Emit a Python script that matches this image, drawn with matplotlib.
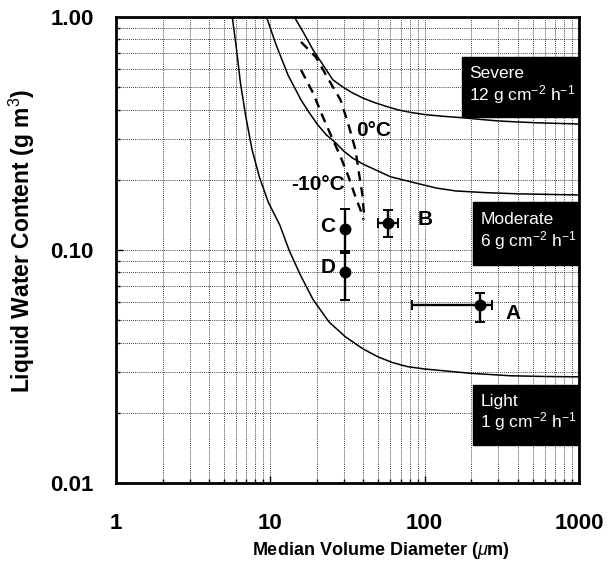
import matplotlib
matplotlib.use('Agg')
import matplotlib.pyplot as plt
from matplotlib.patches import Rectangle

plt.rcParams['font.family'] = ['Liberation Sans', 'DejaVu Sans']
plt.rcParams['mathtext.fontset'] = 'custom'
plt.rcParams['mathtext.rm'] = 'Liberation Sans'
plt.rcParams['mathtext.it'] = 'Liberation Sans:italic'
plt.rcParams['mathtext.bf'] = 'Liberation Sans:bold'

# icing intensity curves (MVD in um, LWC in g m^-3)
light_mvd = [5.66, 6.0, 6.4, 6.9, 7.6, 8.5, 9.7, 11.5, 13.2, 15.5, 18.9, 24, 30.7, 40,
             50, 62, 77.8, 100, 130, 200, 360, 600, 1000]
light_lwc = [1.0, 0.75, 0.52, 0.38, 0.27, 0.205, 0.16, 0.128, 0.10, 0.079, 0.0612, 0.049,
             0.0423, 0.0375, 0.0347, 0.0328, 0.0315, 0.0308, 0.0303, 0.0295, 0.0288, 0.0286, 0.0285]

moderate_mvd = [9.43, 10.9, 13.0, 15.8, 18, 20.3, 23, 26.5, 30, 34, 40, 47.7, 60, 86.3,
                120, 159, 250, 402, 1000]
moderate_lwc = [1.0, 0.758, 0.564, 0.44, 0.385, 0.344, 0.312, 0.288, 0.265, 0.248, 0.233,
                0.221, 0.206, 0.194, 0.184, 0.179, 0.176, 0.174, 0.172]

severe_mvd = [14.3, 16.5, 18.9, 22, 25.4, 29.5, 34, 40, 47.7, 57, 67.1, 83, 103, 135, 177,
              230, 295, 400, 547, 1000]
severe_lwc = [1.0, 0.85, 0.722, 0.62, 0.537, 0.5, 0.472, 0.448, 0.428, 0.412, 0.399, 0.388,
              0.38, 0.374, 0.369, 0.363, 0.358, 0.354, 0.351, 0.347]

# temperature boundaries (dashed)
t0_mvd = [15.8, 19.7, 23.9, 28.5, 32.1, 35.6, 37.2, 39.5, 40.7]
t0_lwc = [0.781, 0.673, 0.537, 0.44, 0.344, 0.269, 0.221, 0.172, 0.135]
t10_mvd = [15.8, 18.9, 21.9, 24.6, 28.5, 32.1, 35.6, 38.3, 40.1]
t10_lwc = [0.592, 0.472, 0.372, 0.312, 0.251, 0.206, 0.169, 0.149, 0.135]

# observations
obs_names = ['A', 'B', 'C', 'D']
obs_mvd = [227, 58, 30.3, 30.3]
obs_lwc = [0.058, 0.131, 0.123, 0.0805]
obs_mvd_lo = [82.6, 50, 30.3, 30.3]
obs_mvd_hi = [273, 67, 30.3, 30.3]
obs_lwc_lo = [0.0491, 0.113, 0.099, 0.061]
obs_lwc_hi = [0.0654, 0.149, 0.150, 0.097]

fig = plt.figure(figsize=(6.14, 5.64), dpi=100)
ax = fig.add_axes([0.189, 0.144, 0.754, 0.826])
ax.set_xscale('log')
ax.set_yscale('log')
ax.set_xlim(1, 1000)
ax.set_ylim(0.01, 1)

ax.grid(True, which='both', color='black', linestyle=(0, (1, 1.5)), linewidth=0.6)
ax.set_axisbelow(True)

ax.plot(light_mvd, light_lwc, color='black', linewidth=1.1)
ax.plot(moderate_mvd, moderate_lwc, color='black', linewidth=1.1)
ax.plot(severe_mvd, severe_lwc, color='black', linewidth=1.1)
ax.plot(t0_mvd, t0_lwc, color='black', linewidth=1.7, linestyle=(0, (4, 2.8)))
ax.plot(t10_mvd, t10_lwc, color='black', linewidth=1.7, linestyle=(0, (4, 2.8)))

for i in range(len(obs_names)):
    xerr = [[obs_mvd[i] - obs_mvd_lo[i]], [obs_mvd_hi[i] - obs_mvd[i]]]
    yerr = [[obs_lwc[i] - obs_lwc_lo[i]], [obs_lwc_hi[i] - obs_lwc[i]]]
    if obs_mvd_lo[i] == obs_mvd_hi[i]:
        xerr = None
    ax.errorbar(obs_mvd[i], obs_lwc[i], xerr=xerr, yerr=yerr, fmt='o', color='black',
                markersize=7.5, elinewidth=1.7, capsize=3.5, capthick=1.4)

label_offsets = [(24, -6), (27, 2), (-12, 2), (-12, 3)]
for i in range(len(obs_names)):
    ax.annotate(obs_names[i], (obs_mvd[i], obs_lwc[i]), xytext=label_offsets[i],
                textcoords='offset points', ha='center', va='center',
                fontsize=15, fontweight='bold')

ax.text(46.4, 0.324, '0\u00b0C', ha='center', va='center', fontsize=15, fontweight='bold')
ax.text(20.3, 0.190, '-10\u00b0C', ha='center', va='center', fontsize=15, fontweight='bold')

# black intensity boxes
boxes = [(0.747, 0.785, 0.251, 0.129, 'Severe', '12'),
         (0.771, 0.468, 0.229, 0.135, 'Moderate', '6'),
         (0.771, 0.082, 0.229, 0.128, 'Light', '1')]
for bx, by, bw, bh, name, rate in boxes:
    ax.add_patch(Rectangle((bx, by), bw, bh, transform=ax.transAxes,
                           facecolor='black', edgecolor='black', zorder=5))
    ax.text(bx + 0.016, by + bh * 0.52, name + '\n' + rate + r' g cm$^{-2}$ h$^{-1}$',
            transform=ax.transAxes, color='white', fontsize=12.5, ha='left', va='center',
            linespacing=1.1, zorder=6)

ax.set_xticks([1, 10, 100, 1000])
ax.set_xticklabels(['1', '10', '100', '1000'])
ax.set_yticks([0.01, 0.1, 1])
ax.set_yticklabels(['0.01', '0.10', '1.00'])
ax.tick_params(which='both', direction='in', top=False, right=False)
ax.tick_params(which='major', length=5, width=1)
ax.tick_params(which='minor', length=3, width=1)
ax.tick_params(axis='x', which='major', pad=22)
ax.tick_params(axis='y', which='major', pad=16)
for lab in ax.get_xticklabels() + ax.get_yticklabels():
    lab.set_fontweight('bold')
    lab.set_fontsize(16)
for s in ax.spines.values():
    s.set_linewidth(2)

ax.set_xlabel(r'Median Volume Diameter ($\mu$m)', fontsize=13, fontweight='bold')
ax.xaxis.set_label_coords(0.572, -0.122)
ax.xaxis.label.set_va('top')
ax.set_ylabel(r'Liquid Water Content (g m$^{3}$)', fontsize=16.5, fontweight='bold')
ax.yaxis.set_label_coords(-0.17, 0.52)

fig.savefig('out.png', dpi=100)
